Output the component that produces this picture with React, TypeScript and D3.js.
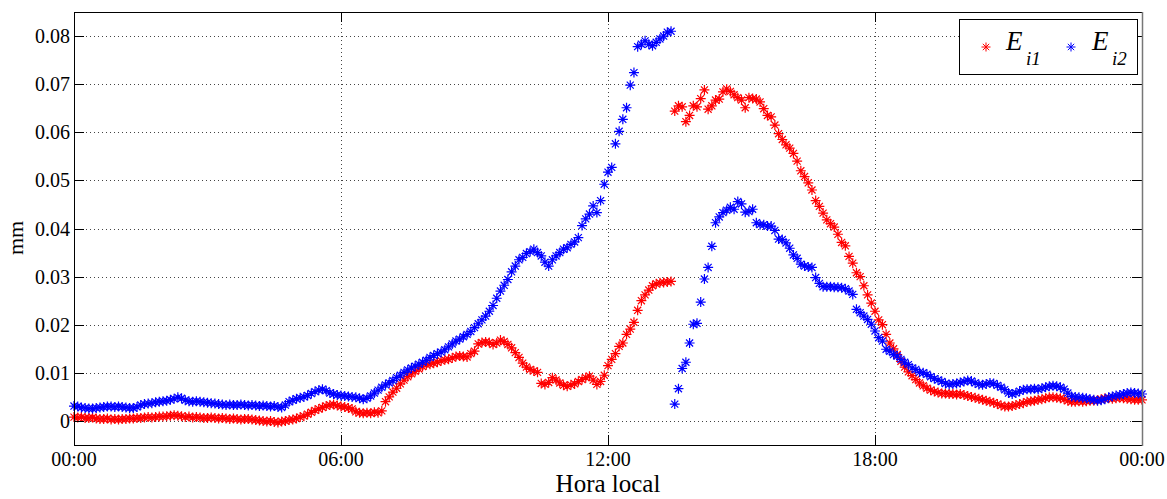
import React from "react";
import * as d3 from "d3";

// 5-minute samples from 00:00 to 24:00 (hours)
const E_i1: number[] = [
  0.0008,0.0007,0.0008,0.0006,0.0006,0.0007,0.0005,0.0004,0.0004,0.0005,0.0003,0.0004,
  0.0003,0.0004,0.0004,0.0005,0.0005,0.0006,0.0006,0.0007,0.0008,0.0007,0.0008,0.0009,
  0.0009,0.0010,0.0011,0.0012,0.0011,0.0010,0.0008,0.0009,0.0007,0.0008,0.0007,0.0006,
  0.0006,0.0007,0.0006,0.0005,0.0006,0.0005,0.0004,0.0005,0.0004,0.0003,0.0004,0.0004,
  0.0003,0.0002,0.0001,0.0000,-0.0001,0.0000,-0.0002,-0.0003,-0.0001,0.0000,0.0002,0.0003,
  0.0005,0.0008,0.0010,0.0014,0.0018,0.0022,0.0025,0.0028,0.0031,0.0033,0.0034,0.0032,
  0.0030,0.0029,0.0027,0.0025,0.0019,0.0017,0.0016,0.0017,0.0016,0.0018,0.0017,0.0021,
  0.0040,0.0050,0.0060,0.0068,0.0077,0.0085,0.0092,0.0098,0.0103,0.0108,0.0113,0.0117,
  0.0118,0.0120,0.0122,0.0125,0.0127,0.0128,0.0131,0.0134,0.0135,0.0134,0.0133,0.0140,
  0.0145,0.0160,0.0163,0.0164,0.0163,0.0159,0.0162,0.0168,0.0165,0.0159,0.0152,0.0142,
  0.0132,0.0120,0.0112,0.0107,0.0104,0.0101,0.0078,0.0076,0.0080,0.0090,0.0085,0.0079,
  0.0074,0.0072,0.0075,0.0077,0.0082,0.0086,0.0090,0.0093,0.0085,0.0076,0.0082,0.0095,
  0.0115,0.0128,0.0140,0.0155,0.0162,0.0180,0.0191,0.0205,0.0230,0.0250,0.0262,0.0272,
  0.0281,0.0285,0.0287,0.0288,0.0289,0.0290,0.0644,0.0655,0.0653,0.0622,0.0635,0.0655,
  0.0653,0.0670,0.0688,0.0648,0.0655,0.0667,0.0669,0.0684,0.0690,0.0685,0.0678,0.0672,
  0.0667,0.0651,0.0672,0.0670,0.0669,0.0663,0.0649,0.0635,0.0632,0.0615,0.0597,0.0585,
  0.0574,0.0567,0.0556,0.0540,0.0520,0.0508,0.0495,0.0480,0.0458,0.0446,0.0432,0.0418,
  0.0410,0.0403,0.0388,0.0371,0.0364,0.0342,0.0328,0.0308,0.0300,0.0281,0.0262,0.0245,
  0.0228,0.0210,0.0200,0.0180,0.0162,0.0150,0.0138,0.0124,0.0112,0.0102,0.0094,0.0086,
  0.0079,0.0073,0.0068,0.0064,0.0061,0.0059,0.0057,0.0057,0.0056,0.0056,0.0055,0.0056,
  0.0054,0.0052,0.0050,0.0048,0.0046,0.0044,0.0042,0.0040,0.0038,0.0035,0.0032,0.0030,
  0.0030,0.0031,0.0033,0.0035,0.0037,0.0040,0.0041,0.0042,0.0044,0.0045,0.0047,0.0049,
  0.0049,0.0048,0.0047,0.0045,0.0042,0.0040,0.0040,0.0041,0.0040,0.0041,0.0042,0.0042,
  0.0043,0.0045,0.0047,0.0047,0.0046,0.0047,0.0048,0.0047,0.0046,0.0045,0.0044,0.0044,
  0.0044,
];

const E_i2: number[] = [
  0.0031,0.0030,0.0028,0.0027,0.0026,0.0026,0.0027,0.0028,0.0029,0.0030,0.0030,0.0029,
  0.0030,0.0029,0.0028,0.0027,0.0027,0.0029,0.0033,0.0035,0.0036,0.0037,0.0039,0.0040,
  0.0041,0.0042,0.0044,0.0046,0.0049,0.0047,0.0043,0.0041,0.0040,0.0041,0.0040,0.0039,
  0.0038,0.0037,0.0036,0.0035,0.0034,0.0033,0.0034,0.0033,0.0033,0.0034,0.0033,0.0032,
  0.0033,0.0032,0.0031,0.0032,0.0031,0.0030,0.0031,0.0029,0.0028,0.0033,0.0040,0.0043,
  0.0046,0.0048,0.0050,0.0053,0.0057,0.0061,0.0064,0.0066,0.0063,0.0058,0.0056,0.0054,
  0.0053,0.0052,0.0051,0.0050,0.0049,0.0047,0.0045,0.0047,0.0052,0.0058,0.0064,0.0070,
  0.0075,0.0079,0.0084,0.0090,0.0095,0.0101,0.0106,0.0110,0.0114,0.0118,0.0122,0.0126,
  0.0132,0.0136,0.0140,0.0143,0.0148,0.0154,0.0160,0.0166,0.0170,0.0175,0.0180,0.0186,
  0.0194,0.0202,0.0210,0.0218,0.0228,0.0240,0.0255,0.0270,0.0282,0.0294,0.0310,0.0322,
  0.0335,0.0340,0.0348,0.0352,0.0357,0.0350,0.0343,0.0330,0.0322,0.0335,0.0343,0.0350,
  0.0357,0.0360,0.0367,0.0372,0.0381,0.0406,0.0420,0.0430,0.0447,0.0433,0.0458,0.0492,
  0.0517,0.0527,0.0576,0.0602,0.0627,0.0651,0.0698,0.0724,0.0778,0.0783,0.0790,0.0783,
  0.0780,0.0787,0.0794,0.0800,0.0808,0.0810,0.0035,0.0067,0.0109,0.0122,0.0162,0.0201,
  0.0203,0.0247,0.0295,0.0319,0.0363,0.0412,0.0424,0.0433,0.0438,0.0444,0.0440,0.0456,
  0.0451,0.0434,0.0435,0.0440,0.0412,0.0408,0.0408,0.0405,0.0405,0.0396,0.0378,0.0377,
  0.0370,0.0359,0.0345,0.0338,0.0326,0.0322,0.0320,0.0319,0.0298,0.0286,0.0279,0.0279,
  0.0279,0.0278,0.0278,0.0277,0.0275,0.0270,0.0263,0.0232,0.0225,0.0218,0.0211,0.0201,
  0.0187,0.0173,0.0166,0.0149,0.0145,0.0138,0.0135,0.0128,0.0122,0.0117,0.0110,0.0107,
  0.0101,0.0100,0.0097,0.0092,0.0088,0.0085,0.0082,0.0078,0.0076,0.0077,0.0078,0.0080,
  0.0082,0.0084,0.0083,0.0079,0.0076,0.0075,0.0077,0.0079,0.0078,0.0074,0.0070,0.0065,
  0.0058,0.0056,0.0058,0.0062,0.0065,0.0066,0.0066,0.0067,0.0066,0.0068,0.0070,0.0072,
  0.0073,0.0072,0.0070,0.0066,0.0058,0.0051,0.0050,0.0049,0.0048,0.0047,0.0045,0.0044,
  0.0042,0.0043,0.0045,0.0049,0.0051,0.0053,0.0054,0.0056,0.0058,0.0059,0.0058,0.0057,
  0.0056,
];

const xTickHours: number[] = [0, 6, 12, 18, 24];
const xTickLabels: string[] = ["00:00", "06:00", "12:00", "18:00", "00:00"];
const yTicks: number[] = [0, 0.01, 0.02, 0.03, 0.04, 0.05, 0.06, 0.07, 0.08];
const yTickLabels: string[] = ["0", "0.01", "0.02", "0.03", "0.04", "0.05", "0.06", "0.07", "0.08"];

const W = 1167;
const H = 499;
const L = 74, R = 1142, T = 12, B = 445;
const FONT = "'Liberation Serif', 'Times New Roman', serif";

const star = (r: number) => {
  const d = r * 0.7071;
  return `M${-r},0H${r}M0,${-r}V${r}M${-d},${-d}L${d},${d}M${-d},${d}L${d},${-d}`;
};

export default function App() {
  const x = d3.scaleLinear().domain([0, 24]).range([L, R]);
  const y = d3.scaleLinear().domain([-0.005, 0.085]).range([B, T]);
  const tHours = (i: number) => i / 12;
  const marker = star(5);
  const tick = 10;

  const series = [
    { data: E_i1, color: "#ff0000" },
    { data: E_i2, color: "#0000ff" },
  ];

  return (
    <svg width={W} height={H} style={{ position: "absolute", left: 0, top: 0, background: "#fff" }} fontFamily={FONT}>
      <rect x={0} y={0} width={W} height={H} fill="#fff" />
      {/* grid */}
      <g stroke="#444" strokeWidth={1} strokeDasharray="1,3">
        {yTicks.map((v) => (
          <line key={"gy" + v} x1={L} x2={R} y1={Math.round(y(v)) + 0.5} y2={Math.round(y(v)) + 0.5} />
        ))}
        {xTickHours.slice(1, -1).map((h) => (
          <line key={"gx" + h} x1={Math.round(x(h)) + 0.5} x2={Math.round(x(h)) + 0.5} y1={T} y2={B} />
        ))}
      </g>
      {/* data */}
      {series.map((s, si) => (
        <g key={si} stroke={s.color} strokeWidth={1.2} fill="none">
          {s.data.map((v, i) => (
            <path key={i} d={marker} transform={`translate(${x(tHours(i))},${y(v)})`} />
          ))}
        </g>
      ))}
      {/* axes box */}
      <g stroke="#000" strokeWidth={1} fill="none">
        <line x1={L + 0.5} x2={L + 0.5} y1={T} y2={B + 0.5} />
        <line x1={L} x2={R} y1={B + 0.5} y2={B + 0.5} />
        <line x1={L} x2={R} y1={T + 0.5} y2={T + 0.5} />
        {yTicks.map((v) => (
          <g key={"ty" + v}>
            <line x1={L} x2={L + tick} y1={Math.round(y(v)) + 0.5} y2={Math.round(y(v)) + 0.5} />
            <line x1={R - tick} x2={R} y1={Math.round(y(v)) + 0.5} y2={Math.round(y(v)) + 0.5} />
          </g>
        ))}
        {xTickHours.map((h) => (
          <g key={"tx" + h}>
            <line x1={Math.round(x(h)) + 0.5} x2={Math.round(x(h)) + 0.5} y1={B} y2={B - tick} />
            <line x1={Math.round(x(h)) + 0.5} x2={Math.round(x(h)) + 0.5} y1={T} y2={T + tick} />
          </g>
        ))}
      </g>
      <line x1={R + 0.5} x2={R + 0.5} y1={T} y2={B + 1} stroke="#777" strokeWidth={1.5} />
      {/* tick labels */}
      <g fontSize={20} fill="#000">
        {yTicks.map((v, i) => (
          <text key={"ly" + v} x={L - 4} y={y(v) + 7} textAnchor="end">{yTickLabels[i]}</text>
        ))}
        {xTickHours.map((h, i) => (
          <text key={"lx" + i} x={x(h)} y={466} textAnchor="middle">{xTickLabels[i]}</text>
        ))}
      </g>
      <text x={(L + R) / 2} y={492} textAnchor="middle" fontSize={25}>Hora local</text>
      <text transform={`translate(23,238) rotate(-90)`} textAnchor="middle" fontSize={22}>mm</text>
      {/* legend */}
      <g>
        <rect x={959.5} y={19.5} width={178} height={55} fill="#fff" stroke="#000" strokeWidth={1} />
        <path d={star(4.5)} transform="translate(986,47)" stroke="#ff0000" fill="none" />
        <text x={1006} y={50} fontSize={27} fontStyle="italic">E</text>
        <text x={1026} y={65} fontSize={19} fontStyle="italic">i1</text>
        <path d={star(4.5)} transform="translate(1071,47)" stroke="#0000ff" fill="none" />
        <text x={1092} y={50} fontSize={27} fontStyle="italic">E</text>
        <text x={1112} y={65} fontSize={19} fontStyle="italic">i2</text>
      </g>
    </svg>
  );
}
